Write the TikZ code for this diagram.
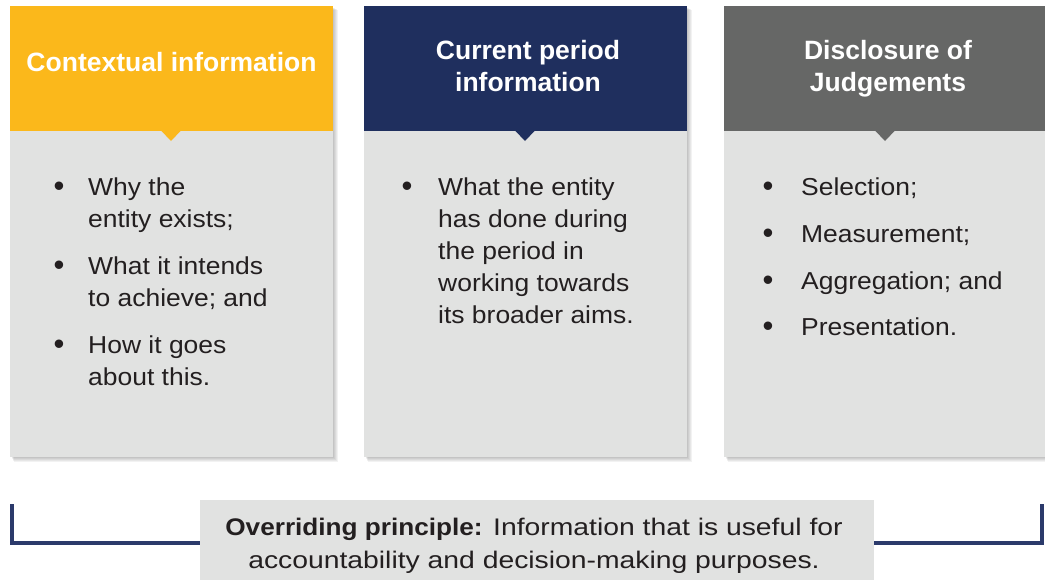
\documentclass[tikz,border=0pt]{standalone}
\usepackage{fontspec}
\setmainfont{Liberation Sans}
\newfontfamily\bodyfont[FakeStretch=1.08]{Liberation Sans}
\newfontfamily\notefont[FakeStretch=1.18]{Liberation Sans}
\newfontfamily\noteboldfont[FakeStretch=1.09]{Liberation Sans Bold}
\definecolor{hdryellow}{HTML}{FBB81B}
\definecolor{hdrnavy}{HTML}{1F2F5E}
\definecolor{hdrgray}{HTML}{666766}
\definecolor{panelgray}{HTML}{E1E2E1}
\definecolor{inkdark}{HTML}{231F20}
\definecolor{rulenavy}{HTML}{2B3A6B}
\tikzset{
  panel/.style={fill=panelgray, draw=none, anchor=north west, inner sep=0pt,
    minimum width=323pt, minimum height=451pt},
  header/.style={draw=none, anchor=north west, inner sep=0pt,
    minimum width=323pt, minimum height=125pt},
  hdrtext/.style={text=white, font=\fontsize{26.5}{32}\selectfont\bfseries,
    align=center, anchor=base, inner sep=0pt},
  bulletmark/.style={text=inkdark, font=\fontsize{31}{32}\selectfont,
    anchor=base, inner sep=0pt},
  itemtext/.style={text=inkdark, font=\bodyfont\fontsize{24.5}{32}\selectfont,
    align=left, anchor=base west, inner sep=0pt},
  principle/.style={fill=panelgray, draw=none, anchor=north west, inner sep=0pt,
    minimum width=674pt, minimum height=90pt},
  principletext/.style={text=inkdark, font=\notefont\fontsize{24}{33}\selectfont,
    align=center, anchor=base, inner sep=0pt},
  bracket/.style={draw=rulenavy, line width=4pt},
}
% soft shadow behind a panel: stacked translucent rectangles
\newcommand\panelshadow[4]{%
  \foreach \s in {1,...,5}{%
    \fill[black, opacity=0.05] (#1+\s*0.6+1, #2+\s*0.6+1) rectangle (#3+\s*0.9, #4+\s*0.9);
  }}
\begin{document}
\begin{tikzpicture}[x=1pt,y=-1pt]
\useasboundingbox (0,0) rectangle (1045,579);
\begin{scope}
\clip (0,0) rectangle (1045,579);

% shadows
\panelshadow{10}{6}{333}{457}
\panelshadow{364}{6}{687}{457}
\panelshadow{724}{6}{1045}{457}

% column 1 (multi-line texts are placed by the baseline of their last line)
\node[panel] (p1) at (10,6) {};
\node[header, fill=hdryellow] (h1) at (10,6) {};
\fill[hdryellow] (161,130.5) -- (181,130.5) -- (171,141) -- cycle;
\node[hdrtext] (t1) at (171.5,71) {Contextual information};
\node[bulletmark] (b11) at (59,196) {\textbullet};
\node[itemtext] (i11) at (88,227) {Why the\\entity exists;};
\node[bulletmark] (b12) at (59,275) {\textbullet};
\node[itemtext] (i12) at (88,306) {What it intends\\to achieve; and};
\node[bulletmark] (b13) at (59,354) {\textbullet};
\node[itemtext] (i13) at (88,385) {How it goes\\about this.};

% column 2
\node[panel] (p2) at (364,6) {};
\node[header, fill=hdrnavy] (h2) at (364,6) {};
\fill[hdrnavy] (515,130.5) -- (535,130.5) -- (525,141) -- cycle;
\node[hdrtext] (t2) at (528,91) {Current period\\information};
\node[bulletmark] (b21) at (407,196) {\textbullet};
\node[itemtext] (i21) at (438,323) {What the entity\\has done during\\the period in\\working towards\\its broader aims.};

% column 3
\node[panel] (p3) at (724,6) {};
\node[header, fill=hdrgray] (h3) at (724,6) {};
\fill[hdrgray] (875,130.5) -- (895,130.5) -- (885,141) -- cycle;
\node[hdrtext] (t3) at (888,91) {Disclosure of\\Judgements};
\node[bulletmark] (b31) at (768,196) {\textbullet};
\node[itemtext] (i31) at (801,195) {Selection;};
\node[bulletmark] (b32) at (768,243) {\textbullet};
\node[itemtext] (i32) at (801,242) {Measurement;};
\node[bulletmark] (b33) at (768,290) {\textbullet};
\node[itemtext] (i33) at (801,289) {Aggregation; and};
\node[bulletmark] (b34) at (768,336) {\textbullet};
\node[itemtext] (i34) at (801,335) {Presentation.};

% overriding principle
\node[principle] (pr) at (200,500) {};
\node[principletext] (prt) at (534,568) {{\noteboldfont Overriding principle:} Information that is useful for\\accountability and decision-making purposes.};
\coordinate (lt) at (12,504);
\coordinate (rt) at (1042,504);
\draw[bracket] (lt) |- (pr.west |- 0,543);
\draw[bracket] (rt) |- (pr.east |- 0,543);
\end{scope}
\end{tikzpicture}
\end{document}
